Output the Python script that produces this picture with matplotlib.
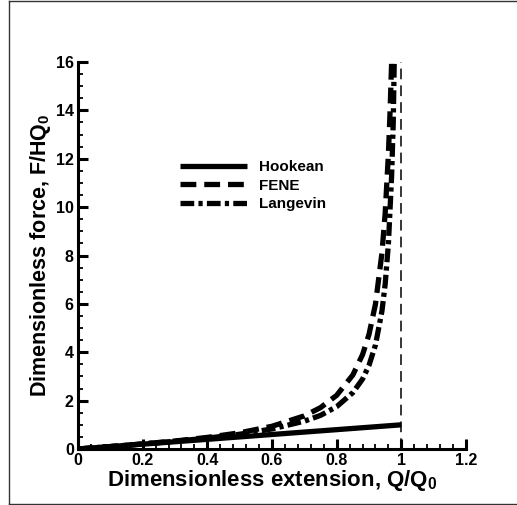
import matplotlib
matplotlib.use("Agg")
import matplotlib.pyplot as plt
from matplotlib.ticker import MultipleLocator, FormatStrFormatter
from matplotlib.lines import Line2D

plt.rcParams['font.family'] = ['Liberation Sans', 'DejaVu Sans']
plt.rcParams['font.weight'] = 'bold'
plt.rcParams['mathtext.fontset'] = 'custom'
plt.rcParams['mathtext.rm'] = 'Liberation Sans:bold'
plt.rcParams['mathtext.bf'] = 'Liberation Sans:bold'
plt.rcParams['mathtext.it'] = 'Liberation Sans:bold'
plt.rcParams['mathtext.default'] = 'bf'

# valores
hook_q = [0.0, 1.0]
hook_f = [0.0, 1.0]

fene_q = [0.0, 0.1, 0.2, 0.3, 0.4, 0.5, 0.6, 0.7, 0.75, 0.8, 0.85, 0.88, 0.9, 0.92, 0.94, 0.95, 0.96, 0.965, 0.97]
fene_f = [0.0, 0.10, 0.21, 0.33, 0.48, 0.67, 0.94, 1.37, 1.71, 2.22, 3.06, 3.90, 4.74, 5.99, 8.10, 9.74, 12.2, 13.9, 16.0]

lang_q = [0.0, 0.1, 0.2, 0.3, 0.4, 0.5, 0.6, 0.7, 0.75, 0.8, 0.85, 0.88, 0.9, 0.92, 0.94, 0.95, 0.96, 0.97, 0.975, 0.978]
lang_f = [0.0, 0.10, 0.21, 0.32, 0.45, 0.61, 0.83, 1.15, 1.39, 1.75, 2.33, 2.89, 3.46, 4.30, 5.70, 6.81, 8.48, 11.3, 13.5, 16.0]

asym_q = [1.0, 1.0]
asym_f = [0.0, 16.0]

fig = plt.figure(figsize=(5.17, 5.05), dpi=100)
ax = fig.add_axes([78/517, 1 - 449/505, (466 - 78)/517, (449 - 62)/505])

ax.plot(hook_q, hook_f, color='black', lw=3.8, solid_capstyle='butt', label='Hookean')
ax.plot(fene_q, fene_f, color='black', lw=3.8, dashes=(3.0, 1.5), label='FENE')
ax.plot(lang_q, lang_f, color='black', lw=3.8, dashes=(2.6, 0.8, 0.8, 0.8), label='Langevin')
ax.plot(asym_q, asym_f, color='black', lw=1.1, dashes=(7, 4))

ax.set_xlim(0, 1.2)
ax.set_ylim(0, 16)
ax.xaxis.set_major_locator(MultipleLocator(0.2))
ax.xaxis.set_minor_locator(MultipleLocator(0.04))
ax.yaxis.set_major_locator(MultipleLocator(2))
ax.yaxis.set_minor_locator(MultipleLocator(0.5))
ax.xaxis.set_major_formatter(FormatStrFormatter('%g'))
ax.yaxis.set_major_formatter(FormatStrFormatter('%g'))

for s in ['top', 'right']:
    ax.spines[s].set_visible(False)
for s in ['left', 'bottom']:
    ax.spines[s].set_linewidth(2.2)

ax.tick_params(which='major', direction='in', length=7, width=2.2, labelsize=11.5, pad=3)
ax.tick_params(which='minor', direction='in', length=3.8, width=1.3)
ax.tick_params(top=False, right=False, which='both')

ax.set_xlabel('Dimensionless extension, Q/Q$_0$', fontsize=16, fontweight='bold', labelpad=0)
ax.set_ylabel('Dimensionless force, F/HQ$_0$', fontsize=15.5, fontweight='bold', labelpad=2)

leg = ax.legend(loc='upper left', bbox_to_anchor=(180/517, 1 - 160/505), bbox_transform=fig.transFigure,
                frameon=False, fontsize=11, handlelength=4.4, handletextpad=0.8,
                labelspacing=0.3, borderpad=0, borderaxespad=0)

# marco alrededor de la figura
fig.add_artist(Line2D([9/517, 9/517], [1/505, 504/505], transform=fig.transFigure, color='#333333', lw=1))
fig.add_artist(Line2D([9/517, 1.0], [504/505, 504/505], transform=fig.transFigure, color='#333333', lw=1))
fig.add_artist(Line2D([9/517, 1.0], [1/505, 1/505], transform=fig.transFigure, color='#333333', lw=1))

fig.savefig('out.png', dpi=100)
